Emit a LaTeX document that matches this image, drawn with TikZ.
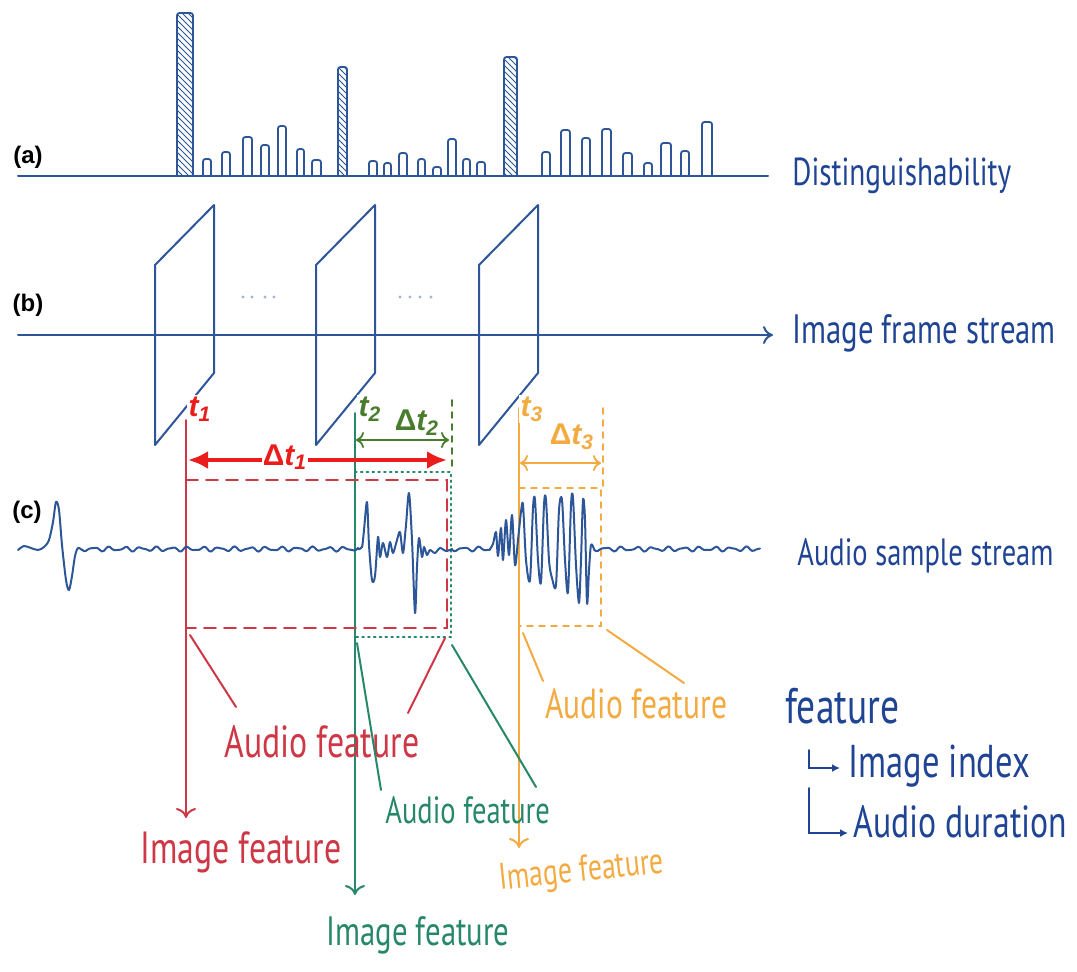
\documentclass[tikz,border=0pt]{standalone}
\usepackage{fontspec}
\setmainfont{Liberation Sans}
\newfontfamily\hand[FakeStretch=0.75]{PT Sans}
\newcommand\handsz[1]{\hand\fontsize{#1}{#1}\selectfont}
\usetikzlibrary{arrows.meta,patterns}

\definecolor{inkblue}{RGB}{44,86,151}
\definecolor{txtblue}{RGB}{32,68,148}
\definecolor{inkred}{RGB}{205,55,70}
\definecolor{arrred}{RGB}{235,28,28}
\definecolor{inkgreen}{RGB}{38,135,105}
\definecolor{dtgreen}{RGB}{72,125,45}
\definecolor{inkorange}{RGB}{242,170,65}

\tikzset{
	stream/.style={draw=inkblue, line width=1pt},
	bar/.style={draw=inkblue, line width=0.9pt, rounded corners=1.2pt},
	hatched/.style={bar, pattern=north west lines, pattern color=inkblue},
	panel/.style={font=\bfseries\fontsize{12}{12}\selectfont},
	tlab/.style={font=\bfseries\itshape\fontsize{15}{15}\selectfont, inner sep=1pt},
	hand/.style={anchor=base west, inner sep=0pt},
	wave/.style={draw=inkblue, line width=1pt, line join=round},
}
% small wiggle of the quiet audio, \t counts pixels from the start of a piece
\newcommand\quiet{549+1.8*sin(23*\t)+0.9*sin(37*\t+30)}
\newcommand\dt[1]{{\upshape Δ}t\textsubscript{#1}}

\begin{document}
\begin{tikzpicture}[x=0.5pt, y=-0.5pt, line cap=round]
	\useasboundingbox (0,0) rectangle (1077,971);

	% (a) distinguishability of each frame
	\foreach \l/\r/\t in {203/211/159, 222/230/152, 243/252/137, 261/269/145, 278/286/126,
		297/304/149, 312/321/160, 369/377/161, 384/391/163, 399/407/153, 418/425/159,
		433/441/167, 448/456/139, 463/470/159, 477/485/162, 542/550/152, 561/570/130,
		582/590/138, 602/611/129, 623/632/153, 644/652/163, 661/671/143, 681/689/151, 702/712/122}
		\draw[bar] (\l,176) -- (\l,\t) -- (\r,\t) -- (\r,176);
	\foreach \l/\r/\t in {177/193/13, 338/347/67, 504/517/57}
		\draw[hatched] (\l,176) -- (\l,\t) -- (\r,\t) -- (\r,176);
	\draw[stream] (18,176) -- (768,176);
	\node[panel] (a) at (28,157) {(a)};
	\node[hand, font=\handsz{19.5}, text=txtblue] (dist) at (792,185) {Distinguishability};

	% (b) image frames
	\draw[stream, -{To[length=5pt,width=9pt]}] (18,335) -- (773,335);
	\foreach \x in {155,316,479}
		\draw[stream, line join=round] (\x,265) -- ++(59,-60) -- ++(0,168) -- ++(-59,72) -- cycle;
	\foreach \x in {243,252,265,274,400,410,420,431}
		\fill[inkblue!45] (\x,297) circle (1.6);
	\node[panel] (b) at (28,305) {(b)};
	\node[hand, font=\handsz{20.5}, text=txtblue] (frames) at (792,343) {Image frame stream};

	% time stamps
	\coordinate (t1) at (186,420);
	\coordinate (t2) at (355,413);
	\coordinate (t3) at (519,408);
	\coordinate (t1end) at (186,818);
	\coordinate (t2end) at (355,895);
	\coordinate (t3end) at (519,848);
	\coordinate (d2end) at (452,400);
	\coordinate (d3end) at (603,408);

	\draw[inkred, line width=1pt, -{To[length=5pt,width=10pt]}] (t1) -- (t1end);
	\draw[inkgreen, line width=1pt, -{To[length=5pt,width=10pt]}] (t2) -- (t2end);
	\draw[inkorange, line width=1pt, -{To[length=5pt,width=10pt]}] (t3) -- (t3end);
	\node[tlab, fill=white, text=arrred] (t1lab) at (200,409) {t\textsubscript{1}};
	\node[tlab, fill=white, text=dtgreen] (t2lab) at (370,409) {t\textsubscript{2}};
	\node[tlab, fill=white, text=inkorange] (t3lab) at (532,409) {t\textsubscript{3}};

	% durations
	\draw[dtgreen, dashed, line width=0.9pt] (d2end) -- ++(0,66);
	\draw[inkorange, dashed, line width=0.9pt] (d3end) -- ++(0,80);
	\draw[dtgreen, line width=0.9pt, {To[length=4pt,width=8pt]}-{To[length=4pt,width=8pt]}] (356,440) -- (449,440);
	\draw[inkorange, line width=0.9pt, {To[length=4pt,width=8pt]}-{To[length=4pt,width=8pt]}] (520,463) -- (601,463);
	\node[tlab, text=dtgreen] (dt2) at (417,423) {\dt{2}};
	\node[tlab, text=inkorange] (dt3) at (572,437) {\dt{3}};

	% audio windows
	\draw[inkred, dashed, line width=0.9pt, dash pattern=on 6pt off 4pt] (186,480) -- (447,480) -- (447,628) -- (186,628);
	\draw[inkgreen, dotted, line width=0.9pt] (355,472) -- (451,472) -- (451,637) -- (355,637);
	\draw[inkorange, dashed, line width=0.9pt] (519,488) -- (601,488) -- (601,626) -- (519,626);

	\draw[arrred, line width=2pt, {Latex[length=10pt,width=9pt]}-{Latex[length=10pt,width=9pt]}] (188,460) -- (447,460);
	\node[tlab, fill=white, text=arrred, inner sep=0.5pt] (dt1) at (285,457) {\dt{1}};

	% (c) audio samples
	\draw[wave] plot[smooth, tension=0.5] coordinates {(18,550) (24,546) (31,548) (38,550) (44,547) (49,540) (53,522) (56,502) (59,510) (62,545) (66,580) (69,590) (72,576) (75,556) (78,548) (82,550)}
		-- plot[variable=\t, domain=0:276, samples=140, smooth] ({82+\t},{\quiet})
		-- plot[smooth, tension=0.5] coordinates {(358,549) (362,547) (364,530) (367,502) (369,545) (372,580) (375,576) (378,537) (380,557) (383,543) (387,557) (390,542) (393,553) (397,540) (400,532) (403,553) (406,525) (409,493) (412,540) (415,613) (417,567) (419,538) (422,557) (424,547) (427,555) (430,550) (435,553) (440,548) (446,551) (452,549)}
		-- plot[variable=\t, domain=0:38, samples=20, smooth] ({452+\t},{\quiet})
		-- plot[smooth, tension=0.5] coordinates {(490,549) (493,544) (496,532) (498,556) (501,528) (503,560) (506,520) (509,555) (512,515) (515,565) (518,540) (521,512) (523,505) (526,560) (530,580) (533,508) (535,500) (538,560) (541,582) (544,505) (546,500) (549,560) (552,578) (556,585) (559,510) (562,500) (565,560) (568,592) (571,505) (573,498) (576,565) (579,603) (581,560) (583,500) (585,520) (587,603) (589,570) (591,545) (594,549)}
		-- plot[variable=\t, domain=0:166, samples=84, smooth] ({594+\t},{\quiet});
	\node[panel] (c) at (27,512) {(c)};
	\node[hand, font=\handsz{19}, text=txtblue] (audio) at (797,565) {Audio sample stream};

	% features taken from each window
	\node[hand, font=\handsz{22.5}, text=inkred] (raud) at (224,757) {Audio feature};
	\node[hand, font=\handsz{22.5}, text=inkred] (rimg) at (140,863) {Image feature};
	\node[hand, font=\handsz{19}, text=inkgreen] (gaud) at (385,823) {Audio feature};
	\node[hand, font=\handsz{20.5}, text=inkgreen] (gimg) at (326,945) {Image feature};
	\node[hand, font=\handsz{21}, text=inkorange] (oaud) at (545,718) {Audio feature};
	\node[hand, font=\handsz{18.5}, text=inkorange, rotate=6] (oimg) at (500,890) {Image feature};

	\draw[inkred, line width=1pt] (190,635) -- (236,707);
	\draw[inkred, line width=1pt] (445,638) -- (408,713);
	\draw[inkgreen, line width=1pt] (357,643) -- (381,790);
	\draw[inkgreen, line width=1pt] (452,645) -- (536,787);
	\draw[inkorange, line width=1pt] (523,633) -- (543,681);
	\draw[inkorange, line width=1pt] (607,630) -- (684,683);

	% legend of the feature
	\node[hand, font=\handsz{25}, text=txtblue] (feat) at (785,723) {feature};
	\node[hand, font=\handsz{23}, text=txtblue] (idx) at (848,777) {Image index};
	\node[hand, font=\handsz{22.5}, text=txtblue] (dur) at (853,837) {Audio duration};
	\draw[txtblue, line width=1pt, -{Latex[length=4pt,width=4pt]}] (809,750) |- (840,768);
	\draw[txtblue, line width=1pt, -{Latex[length=4pt,width=4pt]}] (809,788) |- (848,833);
\end{tikzpicture}
\end{document}
